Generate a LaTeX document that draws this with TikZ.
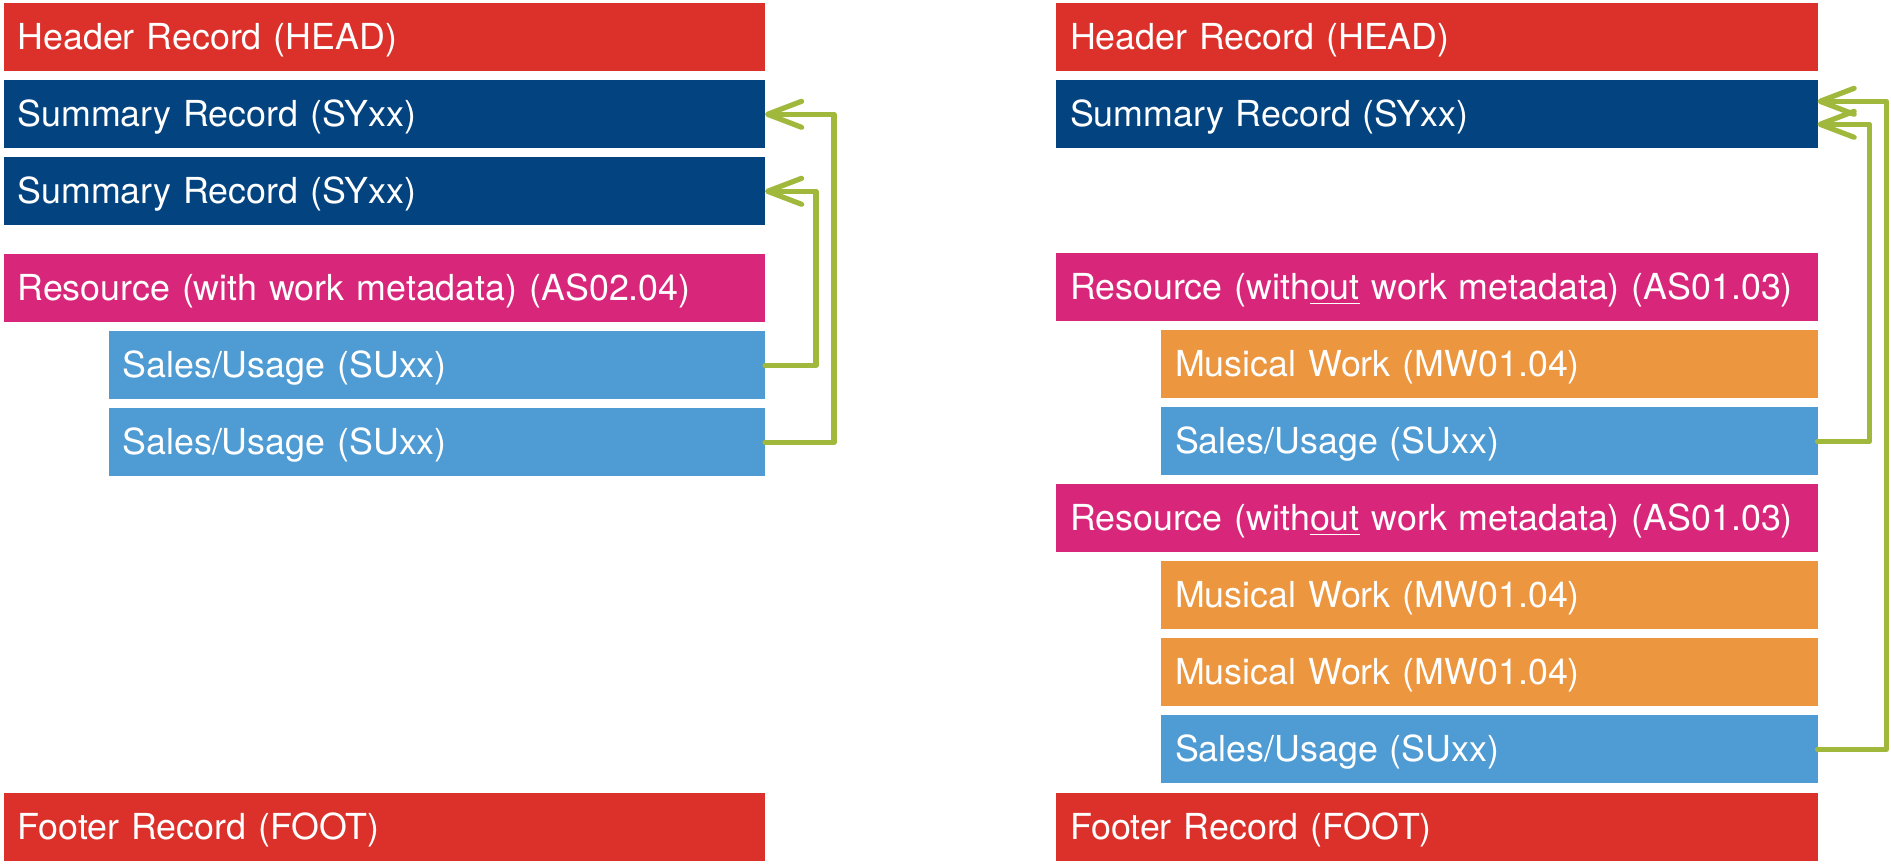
\documentclass[tikz,border=0pt]{standalone}
\usepackage{fontspec}
\setmainfont{TeX Gyre Heros}
\usetikzlibrary{positioning,arrows.meta}

\definecolor{headred}{RGB}{220,49,43}
\definecolor{sumblue}{RGB}{3,67,127}
\definecolor{resmag}{RGB}{216,39,122}
\definecolor{salesblue}{RGB}{79,155,211}
\definecolor{workorange}{RGB}{236,150,63}
\definecolor{linkgreen}{RGB}{160,184,60}

\tikzstyle{record}=[text=white, anchor=north west, outer sep=0pt, inner xsep=7pt, inner ysep=0pt,
  minimum height=34pt, text width=366.75pt, align=left, text height=16pt, text depth=3.7pt,
  font=\fontsize{17.9pt}{21pt}\selectfont]
\tikzstyle{subrecord}=[record, text width=314.25pt]
\tikzstyle{link}=[draw=linkgreen, line width=2.6pt, line cap=round, line join=round,
  -{Straight Barb[length=17pt,width=13pt,line cap=round,line join=round]}]

\begin{document}
\begin{tikzpicture}[node distance=4.5pt]
  \useasboundingbox (0,0) rectangle (945.5pt,-433pt);
  % left file
  \node[record, fill=headred] (headL) at (1.75pt,-1.65pt) {Header Record (HEAD)};
  \node[record, fill=sumblue, below=of headL] (syL1) {Summary Record (SYxx)};
  \node[record, fill=sumblue, below=of syL1] (syL2) {Summary Record (SYxx)};
  \node[record, fill=resmag, below=14.5pt of syL2] (resL) {Resource (with work metadata) (AS02.04)};
  \node[subrecord, fill=salesblue, below=of resL.south east, anchor=north east] (suL1) {Sales/Usage (SUxx)};
  \node[subrecord, fill=salesblue, below=of suL1] (suL2) {Sales/Usage (SUxx)};
  \node[record, fill=headred] (footL) at (1.75pt,-396.5pt) {Footer Record (FOOT)};

  % right file
  \node[record, fill=headred] (headR) at (528pt,-1.65pt) {Header Record (HEAD)};
  \node[record, fill=sumblue, below=of headR] (syR) {Summary Record (SYxx)};
  \node[record, fill=resmag, below=52.5pt of syR] (resR1) {Resource (with\underline{out} work metadata) (AS01.03)};
  \node[subrecord, fill=workorange, below=of resR1.south east, anchor=north east] (mwR1) {Musical Work (MW01.04)};
  \node[subrecord, fill=salesblue, below=of mwR1] (suR1) {Sales/Usage (SUxx)};
  \node[record, fill=resmag, below=of suR1.south east, anchor=north east] (resR2) {Resource (with\underline{out} work metadata) (AS01.03)};
  \node[subrecord, fill=workorange, below=of resR2.south east, anchor=north east] (mwR2) {Musical Work (MW01.04)};
  \node[subrecord, fill=workorange, below=of mwR2] (mwR3) {Musical Work (MW01.04)};
  \node[subrecord, fill=salesblue, below=of mwR3] (suR2) {Sales/Usage (SUxx)};
  \node[record, fill=headred] (footR) at (528pt,-396.5pt) {Footer Record (FOOT)};

  % links back to the summaries
  \draw[link] (suL1.east) -- ++(25.5pt,0) |- (syL2.east);
  \draw[link] (suL2.east) -- ++(34.5pt,0) |- (syL1.east);
  \draw[link] (suR1.east) -- ++(26pt,0) |- ([yshift=-5pt]syR.east);
  \draw[link] (suR2.east) -- ++(34.5pt,0) |- ([yshift=6.5pt]syR.east);
\end{tikzpicture}
\end{document}
